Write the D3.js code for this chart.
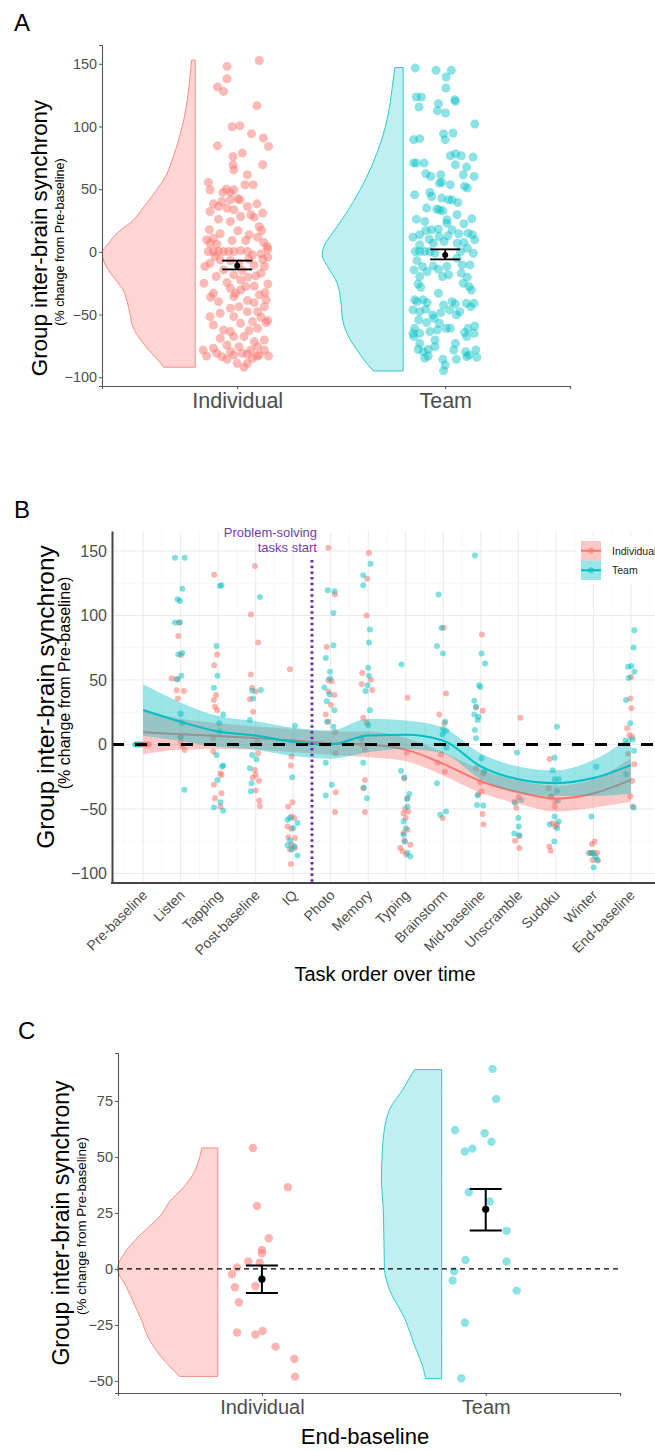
<!DOCTYPE html>
<html>
<head>
<meta charset="utf-8">
<script src="https://cdnjs.cloudflare.com/ajax/libs/d3/7.8.5/d3.min.js"></script>
<style>
  body { margin: 0; background: #fff; }
  svg { display: block; font-family: "Liberation Sans", Arial, Helvetica, sans-serif; }
</style>
</head>
<body>
<div id="chart"></div>
<script>
// ---------- data ----------
const groups = ['Individual', 'Team'];

// Panel A: [jitter (-1..1), % change]
const aIndivPoints = [[.65,152.6],[-.3,148],[-.3,138],[-.58,131.5],[-.4,128],[.58,116.6],[-.15,99.8],[.08,100.6],[.42,94.2],[.77,90.8],[-.58,84.7],[.92,84.1],[.15,78.8],[-.12,76.1],[-.12,69.5],[.75,69.5],[-.1,65.5],[.3,61.5],[-.85,55.4],[.23,53.5],[.47,53.5],[-.8,49.5],[-.32,50],[-.1,49.5],[-.42,47.4],[-.2,47.4],[.02,42.3],[.08,41.5],[-.45,40.2],[-.7,38.3],[.58,38.3],[-.55,36.2],[-.3,34.9],[.3,36.2],[-.8,32.2],[-.1,33.5],[.4,29.6],[.5,27.7],[-.55,26.1],[.1,28.2],[-.2,24.2],[.65,20.2],[.72,17],[-.82,17.6],[.02,16.8],[-.7,10.9],[-.5,14.4],[.35,13.6],[.6,11.7],[-.15,9.1],[.25,9.1],[.78,7.5],[-.8,6.9],[-.6,6.1],[.88,4.3],[-.85,0.3],[-.7,0.3],[-.55,0.3],[-.4,0.3],[-.25,0.3],[-.1,0.3],[.1,1.1],[.3,0.3],[.9,2.1],[.7,-1.6],[.45,-2.4],[.9,-4.3],[-.8,-9.1],[-.5,-6.4],[-.2,-6.9],[.35,-5.9],[.75,-5.9],[.8,-11.7],[.15,-14.9],[-.1,-18.4],[-.62,-19.7],[.55,-19.2],[-.3,-24.5],[.1,-22.4],[.32,-20.2],[.9,-25.6],[.5,-27.2],[-.2,-29],[-.7,-33],[.1,-30.4],[.65,-34.3],[.82,-32.5],[-.1,-35.7],[.3,-38.9],[-.78,-36.2],[-.55,-39.7],[.5,-40.5],[.85,-38.3],[-.2,-45],[.05,-43.7],[.3,-47.7],[.6,-47.7],[.8,-43.7],[-.8,-51.7],[-.5,-49],[-.1,-51.7],[.7,-52.2],[.9,-54.8],[-.7,-58.3],[.1,-57],[.45,-55.6],[.85,-56.4],[-.4,-62.3],[-.2,-63.6],[.35,-62.8],[.6,-61],[-.1,-67.6],[-.5,-69],[.2,-67.6],[.8,-70.3],[.5,-71.6],[-.3,-74.3],[-.7,-76.9],[.05,-75.6],[.4,-78.3],[.8,-78.3],[.6,-75.6],[-.2,-79.6],[.15,-80.9],[-.6,-80.9],[-.9,-83.1],[-.45,-83.6],[-.1,-82.3],[.3,-81.5],[.65,-82.3],[.92,-83.1],[-.3,-85.7],[.45,-84.9],[.58,-83.1],[0,-88.9],[.3,-88.9],[.2,-92.1],[-1,-78.3],[-.98,-25],[-.05,-33],[.25,-27.7],[.7,-17],[-.4,-14.4],[-.95,-11.7],[.5,-10.4],[-.65,-3.7],[.05,-9.1],[.75,30.9],[-.2,41.5],[-.9,9.6]];
const aTeamPoints = [[-.88,146.7],[-.27,144.8],[.18,144.8],[.03,139.5],[.02,130.7],[-.85,123.5],[-.7,123.5],[-.77,115.5],[.28,121.4],[.3,120],[-.2,118.2],[-.23,112.6],[.01,110.8],[.87,102],[-.93,89.5],[-.75,90.3],[-.05,94.2],[.23,94.8],[0,89.5],[-.93,70.8],[-.85,70.8],[-.62,70.8],[.15,76.7],[.3,78.3],[.47,76.7],[.82,75.6],[.3,69.5],[.63,67.6],[-.57,62.3],[-.42,60.2],[-.13,61.5],[.53,61.5],[.85,60.2],[-.17,54.8],[-.1,55.4],[.15,53.5],[.57,52.2],[.65,50.9],[-.9,45.5],[-.45,47.4],[-.4,44.2],[-.1,42.9],[.1,41.5],[.2,41.5],[.37,39.4],[-.55,34.9],[-.25,34.1],[-.17,33.5],[-.07,32.7],[.35,29.6],[-.85,26.1],[-.6,24.2],[.05,25.6],[.78,26.4],[-.4,17.6],[-.2,18.1],[-.57,17],[.05,22.9],[.2,17.6],[.55,22.4],[-.95,11.7],[-.75,13.6],[-.47,10.1],[-.18,12.2],[.08,12.8],[.4,14.4],[.67,14.9],[.8,13.6],[.87,9.6],[-.75,5.6],[-.35,6.9],[-.03,8.3],[.35,6.9],[.55,7.5],[-.88,0.3],[-.75,0.3],[-.6,0.3],[-.45,0.3],[-.3,-1.1],[.45,0.3],[.65,2.9],[.83,-1.1],[-.83,-6.9],[-.67,-11.7],[-.53,-15.7],[-.35,-11.2],[-.2,-13.8],[.05,-11.7],[.35,-5.1],[.5,-10.4],[.73,-10.4],[-.92,-14.4],[-.75,-19.7],[-.08,-19.7],[.1,-18.4],[.47,-17],[.65,-20.2],[-.8,-25.6],[-.72,-28.2],[.53,-25],[.7,-27.7],[-.2,-33],[.77,-30.4],[-.9,-38.3],[-.83,-39.7],[-.65,-38.3],[-.53,-40.5],[.2,-39.7],[.3,-41.5],[.62,-41],[.85,-41],[-.05,-42.3],[-.95,-46.3],[-.75,-47.7],[-.57,-45.8],[-.37,-50.3],[-.13,-48.5],[.13,-46.3],[.43,-47.7],[.75,-43.7],[-.78,-54.3],[-.55,-56.4],[-.33,-53],[-.17,-57],[.33,-50.3],[-.9,-61],[-.75,-65],[-.45,-63.6],[-.23,-62.3],[.03,-61],[.15,-61],[.57,-64.4],[.67,-61],[.87,-59.1],[-.92,-67.6],[-.3,-70.3],[.63,-67.6],[-.8,-77.7],[-.65,-79.6],[-.5,-77.7],[-.3,-75.6],[.25,-78.3],[.3,-73],[.6,-79.6],[.7,-82.3],[.9,-78.3],[-.6,-84.9],[-.5,-83.1],[-.07,-85.7],[.33,-85.7],[.63,-83.6],[.93,-84.1],[0,-90.3],[-.05,-94.8],[-.75,-73],[.85,-65],[-.95,-65]];
const aMeans = [-11, -2.5];
const aLow = [-14, -6];
const aHigh = [-7, 2];
// violin outlines: [value, relative density]
const aIndivViolin = [[153,.04],[100,.14],[75,.24],[60,.32],[50,.41],[35,.56],[25,.67],[15,.84],[5,.95],[0,1],[-10,.97],[-20,.88],[-30,.78],[-40,.73],[-50,.70],[-60,.67],[-70,.59],[-80,.48],[-88,.38],[-92,.34]];
const aTeamViolin = [[147,.09],[130,.12],[110,.16],[90,.23],[70,.33],[50,.46],[30,.62],[15,.76],[5,.85],[-3,.87],[-12,.81],[-25,.71],[-40,.67],[-55,.65],[-70,.57],[-80,.48],[-90,.38],[-95,.32]];
const aTicks = [-100, -50, 0, 50, 100, 150];

// Panel B
const bTasks = ['Pre-baseline','Listen','Tapping','Post-baseline','IQ','Photo','Memory','Typing','Brainstorm','Mid-baseline','Unscramble','Sudoku','Winter','End-baseline'];
const bIndivPoints = [
  [[-.5,0],[-.2,0],[0,0],[.2,0],[.4,0],[.6,0]],
  [[-.17,94.5],[-.23,84.1],[.03,69.3],[-.3,50.6],[.33,41.4],[-.27,35.7],[0,2.2],[.4,-4.3],[.17,-1],[0,6],[-.9,51.4],[-.4,42]],
  [[-.4,131.6],[-.1,69.8],[-.4,61.5],[-.23,38.3],[-.43,34.4],[-.33,29.2],[-.1,26.6],[-.5,4.8],[-.5,-5.5],[.23,-22.3],[.33,-23.6],[-.43,-31.3],[.33,-37.8],[-.33,-41.6],[.23,-48]],
  [[-.08,138.3],[-.48,100.7],[.25,79],[-.48,54.3],[-.35,44],[0,41],[-.58,35],[-.25,25.4],[.18,2.2],[.25,-6.8],[-.08,-19.7],[0,-23.6],[-.28,-25.7],[.32,-28.2],[0,-35.7],[.35,-43.5],[.42,-47.7]],
  [[-.33,58.4],[-.17,-9.4],[-.23,-16.4],[-.07,-44.7],[-.5,-48],[-.17,-55.8],[.1,-57],[-.57,-63.5],[-.17,-65.3],[-.5,-72],[.17,-72.5],[-.17,-77.7],[-.33,-81.5],[.17,-80.2],[-.23,-92.7]],
  [[-.23,152.5],[.43,116.4],[-.4,75.6],[-.23,49.7],[.1,49],[-.23,41],[.37,38.3],[.03,30.6],[-.5,23.3],[-.23,17.7],[.43,9.4],[.5,-6.8],[.5,-37],[.43,-52.4]],
  [[.07,148.4],[-.1,128.5],[-.17,99.9],[-.6,55.4],[.27,50.2],[-.67,46.8],[.4,42.3],[-.5,20.7],[-.17,16.8],[-.6,0],[-.33,-3.9],[-.33,-27.5],[-.5,-33.9],[-.33,-52.4]],
  [[.18,36.2],[.12,-6.3],[-.15,-26.3],[.18,-41.6],[-.08,-49.9],[-.22,-53.3],[.25,-52],[0,-57],[-.22,-68.6],[.18,-66.1],[-.15,-74.6],[.45,-77.7],[-.55,-80.2],[-.32,-82.8],[.05,-85.3]],
  [[.03,90.4],[.27,39.6],[-.4,23.3],[.1,16.4],[-.23,-7.6],[-.57,-14.2],[.17,-21.2],[-.07,-57]],
  [[.12,85.2],[-.48,28.7],[.18,26.1],[-.48,-18.4],[.28,-22.3],[-.05,-29.3],[.08,-36.5],[-.25,-38.6],[.18,-53.9],[.28,-62]],
  [[.2,20.7],[.03,-40.9],[-.4,-44.6],[.1,-70.9],[.1,-80.2],[-.33,-74.6],[-.2,-49]],
  [[-.62,-11.2],[-.72,-33.9],[-.55,-41.1],[-.05,-44.2],[-.12,-48.1],[-.32,-61],[-.05,-63.5],[-.65,-79.1],[-.52,-82.4],[.12,-62]],
  [[.13,-75.2],[-.13,-77.2],[-.47,-84.2],[-.2,-84.2],[.07,-84.2],[.37,-84.2],[-.07,-89.5],[.47,-90]],
  [[.02,52.4],[-.05,35.7],[.05,28],[-.38,12.5],[-.15,7.3],[.12,6],[-.28,-7.3],[.35,-15.3],[.12,-28.2],[-.05,-40.2],[.18,-48]]
];
const bTeamPoints = [
  [[-.8,0],[-.7,0],[-.5,0],[-.3,0]],
  [[-.57,144.8],[.4,144.8],[.17,120.8],[-.3,112.5],[-.07,111.3],[-.57,94.5],[-.07,94.5],[-.23,70],[.17,71],[.07,53.2],[-.4,50.6],[0,23.8],[.17,16.4],[0,6],[.37,-35.2]],
  [[.33,123.4],[.17,122.9],[-.17,76.4],[-.07,53.2],[-.43,43.9],[.5,23.3],[.1,16.4],[.17,10],[-.17,-8.1],[.5,-16.4],[.4,-17],[-.07,-27.5],[.23,-44.7],[-.43,-48.8],[.5,-51.4]],
  [[.42,114.3],[.52,42.3],[-.35,41.7],[-.25,35.7],[-.58,19],[-.35,-8.1],[.08,-11.5],[-.58,-18.5],[-.42,-30],[-.48,-36.2]],
  [[.17,14.5],[-.1,-25.4],[-.57,-58.3],[-.33,-57],[.43,-60.9],[0,-64.7],[-.33,-74.5],[-.57,-78.1],[.1,-78.9],[-.17,-81.5],[.43,-86.1]],
  [[-.3,119.5],[.37,118.7],[.27,101.9],[.27,76.9],[-.5,67.1],[-.07,56.3],[-.07,51.2],[-.63,44.2],[-.13,38.8],[-.4,33.6],[.37,26.6],[-.37,17.7],[.27,13.8],[-.5,-14.2],[.1,-31.3],[-.5,-39.6]],
  [[.23,140.1],[-.5,131.1],[-.5,123.4],[.17,89.1],[.07,79],[0,59.5],[.07,53.2],[-.07,46],[-.27,41.4],[.17,26.6],[0,15],[-.67,4.8],[-.5,-14.2],[-.43,-33.4],[-.13,-41.6]],
  [[-.42,62],[-.48,-20.3],[-.15,-25.7],[.35,-38.4],[.12,-42.2],[.18,-48.1],[-.22,-59.7],[0,-64.9],[-.22,-70],[-.08,-75.2],[.18,-84.2],[.45,-86.8]],
  [[-.47,116.2],[-.17,90.4],[-.63,76.4],[-.03,70.5],[.2,17.7],[0,12],[.3,10.5],[-.07,7.9],[.33,-2.4],[-.63,-30],[-.3,-54.5],[.27,-52]],
  [[-.58,146.6],[.08,70.5],[.42,62.8],[-.18,46],[-.05,44.6],[-.65,33.9],[-.48,29.2],[-.65,23.3],[-.22,21.5],[-.32,18.9],[-.58,11.2],[-.48,4.8],[.08,-10.6],[.35,-21],[-.32,-39.6],[.25,-47.4],[-.38,-46.9]],
  [[-.13,-6.3],[.3,-43],[-.33,-44.9],[0,-57],[.03,-63.5],[-.4,-69.1],[.1,-70.4]],
  [[.12,13.8],[-.12,-10.3],[-.32,-20],[-.12,-27.1],[.28,-27],[.12,-36.2],[-.45,-40.1],[.22,-43.5],[-.62,-62.1],[-.12,-55.8],[.28,-59.7],[.12,-64.9],[-.15,-75.2]],
  [[.3,-17.2],[-.2,-55.8],[-.07,-84.2],[.2,-86.8],[.03,-95.3],[.37,-89.6],[-.3,-84.2]],
  [[.35,88.6],[.28,75.2],[-.28,60.2],[.05,60.9],[.35,56.3],[-.22,51.6],[-.48,34.4],[-.05,16.4],[-.55,3.1],[.18,3.9],[.32,-4.9],[-.48,-23.1],[.28,-48.9]]
];
// smoothed trend and half-width of its confidence band, per task
const bIndivFit = [9.4, 8, 6.5, 5, 3, 1, 0, -4, -15, -28.5, -37, -42, -38, -27.5];
const bIndivBand = [17, 12, 10, 9, 9, 9, 10, 9, 9, 9, 9, 10, 11, 17];
const bTeamFit = [26.7, 17.6, 10, 7, 2, 0, 7, 7.5, 3, -17, -27, -30, -26, -16];
const bTeamBand = [20, 15, 12, 11, 11, 11, 13, 11, 10, 10, 10, 10, 14, 22];
const bTicks = [-100, -50, 0, 50, 100, 150];

// Panel C (End-baseline)
const cIndivPoints = [[-.25,54],[.72,36.5],[-.14,28.1],[.19,13.7],[0,8.5],[0,7],[-.38,3.3],[-.06,2.8],[-.69,0.7],[-.83,-2.4],[-.75,-8.2],[-.18,-7.6],[-.64,-14.9],[-.69,-28.4],[-.18,-29.3],[.02,-27.7],[.38,-34.7],[.9,-40.2],[.92,-48.1]];
const cTeamPoints = [[.19,89.3],[.29,75.9],[-.85,62],[-.03,60.6],[.16,56.8],[-.58,52.4],[-.37,53.7],[-.47,34.2],[.11,30.1],[.58,17],[-.56,4],[.58,3.3],[-.88,-1],[-.92,-5.2],[.86,-9.7],[-.58,-24],[-.68,-48.8]];
const cMeans = [-4.6, 26.6];
const cLow = [-10.8, 17.1];
const cHigh = [1.5, 35.7];
const cIndivViolin = [[54,.16],[40,.28],[36.6,.34],[29.5,.49],[25,.55],[14,.80],[7,.93],[0,1],[-8,.91],[-15,.84],[-23,.76],[-30,.70],[-39,.57],[-48,.38]];
const cTeamViolin = [[89,.27],[80,.39],[70,.53],[54,.59],[40,.60],[25,.58],[0,.57],[-8,.53],[-23,.36],[-33,.28],[-45,.18],[-49,.16]];
const cTicks = [-50, -25, 0, 25, 50, 75];

// ---------- drawing ----------
const RED = '#F8766D', CYAN = '#00BFC4', GREYTXT = '#4d4d4d';
const width = 655, height = 1451;

const svg = d3.select('#chart').append('svg')
  .attr('width', width)
  .attr('height', height);

function panelLetter(txt, x, y) {
  svg.append('text').attr('x', x).attr('y', y)
    .attr('font-size', 24).attr('fill', '#000').text(txt);
}

function yTitles(bx, cy, size, sx, scy, ssize) {
  svg.append('text')
    .attr('transform', `translate(${bx},${cy}) rotate(-90)`)
    .attr('text-anchor', 'middle').attr('font-size', size).attr('fill', '#000')
    .text('Group inter-brain synchrony');
  svg.append('text')
    .attr('transform', `translate(${sx},${scy}) rotate(-90)`)
    .attr('text-anchor', 'middle').attr('font-size', ssize).attr('fill', '#000')
    .text('(% change from Pre-baseline)');
}

// half violin + jittered points, shared by panels A and C
function raincloud(g, x, y, opts) {
  const dens = d3.scaleLinear().domain([0, 1]).range([0, opts.maxW]);
  const violinArea = d3.area()
    .y(d => y(d[0]))
    .x0(d => opts.right - dens(d[1]))
    .x1(opts.right)
    .curve(d3.curveMonotoneY);

  g.append('path')
    .datum(opts.violin)
    .attr('d', violinArea)
    .attr('fill', opts.color).attr('fill-opacity', opts.fillOp)
    .attr('stroke', opts.color).attr('stroke-opacity', .8).attr('stroke-width', 1);

  g.append('g').selectAll('circle')
    .data(opts.points)
    .enter().append('circle')
    .attr('cx', d => x(opts.idx) + d[0] * opts.jitter)
    .attr('cy', d => y(d[1]))
    .attr('r', opts.r)
    .attr('fill', opts.color)
    .attr('fill-opacity', opts.ptOp);
}

function errorBar(g, x, y, i, mean, lo, hi, cap, sw, r) {
  const cx = x(i);
  g.append('line').attr('x1', cx).attr('x2', cx).attr('y1', y(lo)).attr('y2', y(hi))
    .attr('stroke', '#000').attr('stroke-width', sw);
  [lo, hi].forEach(v => {
    g.append('line').attr('x1', cx - cap).attr('x2', cx + cap).attr('y1', y(v)).attr('y2', y(v))
      .attr('stroke', '#000').attr('stroke-width', sw);
  });
  g.append('circle').attr('cx', cx).attr('cy', y(mean)).attr('r', r).attr('fill', '#000');
}

// ===== Panel A =====
{
  const x = d3.scaleLinear().domain([-0.65, 1.6]).range([102, 570]);
  const y = d3.scaleLinear().domain([-107, 165]).range([386, 45]);
  const g = svg.append('g');

  raincloud(g, x, y, { idx: 0, violin: aIndivViolin, points: aIndivPoints, color: RED,
    right: x(0) - 42, maxW: 93, fillOp: .3, ptOp: .5, r: 4.5, jitter: 34 });
  raincloud(g, x, y, { idx: 1, violin: aTeamViolin, points: aTeamPoints, color: CYAN,
    right: x(1) - 42, maxW: 93, fillOp: .25, ptOp: .45, r: 4.5, jitter: 34 });
  groups.forEach((grp, i) => errorBar(g, x, y, i, aMeans[i], aLow[i], aHigh[i], 15, 1.8, 3));

  const yAxis = d3.axisLeft(y).tickValues(aTicks).tickSize(3).tickPadding(2);
  const ya = g.append('g').attr('transform', 'translate(102,0)').call(yAxis);
  ya.select('.domain').attr('stroke', '#555').attr('stroke-width', 1.1);
  ya.selectAll('.tick line').attr('stroke', '#555');
  ya.selectAll('text').attr('font-size', 14.4).attr('fill', GREYTXT).attr('font-family', null);

  const xAxis = d3.axisBottom(x).tickValues([0, 1]).tickFormat(i => groups[i]).tickSize(3).tickPadding(4);
  const xa = g.append('g').attr('transform', 'translate(0,386)').call(xAxis);
  xa.select('.domain').attr('stroke', '#555').attr('stroke-width', 1.1);
  xa.selectAll('.tick line').attr('stroke', '#555');
  xa.selectAll('text').attr('font-size', 21.5).attr('fill', GREYTXT).attr('font-family', null);

  panelLetter('A', 14, 31);
  yTitles(47, 238, 22.3, 64, 242, 12.6);
}

// ===== Panel B =====
{
  const x = d3.scaleLinear().domain([-0.83, 13.67]).range([112, 656]);
  const y = d3.scaleLinear().domain([-107.4, 165.5]).range([883, 531]);
  const g = svg.append('g');
  const top = 531, bottom = 883, left = 112, right = 655;

  // grid
  const grid = g.append('g');
  d3.range(-75, 150, 50).forEach(v => grid.append('line')
    .attr('x1', left).attr('x2', right).attr('y1', y(v)).attr('y2', y(v))
    .attr('stroke', '#f1f3f3').attr('stroke-width', .7));
  bTicks.forEach(v => grid.append('line')
    .attr('x1', left).attr('x2', right).attr('y1', y(v)).attr('y2', y(v))
    .attr('stroke', '#e6eaea').attr('stroke-width', 1));
  d3.range(-0.5, 14, 1).forEach(v => grid.append('line')
    .attr('x1', x(v)).attr('x2', x(v)).attr('y1', top).attr('y2', bottom)
    .attr('stroke', '#f1f3f3').attr('stroke-width', .7));
  bTasks.forEach((t, i) => grid.append('line')
    .attr('x1', x(i)).attr('x2', x(i)).attr('y1', top).attr('y2', bottom)
    .attr('stroke', '#e6eaea').attr('stroke-width', 1));

  // points
  const pts = [];
  bIndivPoints.forEach((arr, i) => arr.forEach(d => pts.push({ i, j: d[0], v: d[1], c: RED, o: .55 })));
  bTeamPoints.forEach((arr, i) => arr.forEach(d => pts.push({ i, j: d[0], v: d[1], c: CYAN, o: .5 })));
  g.append('g').selectAll('circle')
    .data(pts)
    .enter().append('circle')
    .attr('cx', d => x(d.i) + d.j * 10)
    .attr('cy', d => y(d.v))
    .attr('r', 3)
    .attr('fill', d => d.c)
    .attr('fill-opacity', d => d.o);

  // smooth trends with confidence bands
  const idx = d3.range(bTasks.length);
  const series = [
    { fit: bIndivFit, band: bIndivBand, color: RED },
    { fit: bTeamFit, band: bTeamBand, color: CYAN }
  ];
  series.forEach(s => {
    const band = d3.area()
      .x(i => x(i))
      .y0(i => y(s.fit[i] - s.band[i]))
      .y1(i => y(s.fit[i] + s.band[i]))
      .curve(d3.curveMonotoneX);
    g.append('path').datum(idx).attr('d', band)
      .attr('fill', s.color).attr('fill-opacity', .4);
    const line = d3.line().x(i => x(i)).y(i => y(s.fit[i])).curve(d3.curveMonotoneX);
    g.append('path').datum(idx).attr('d', line)
      .attr('fill', 'none').attr('stroke', s.color).attr('stroke-width', 2);
  });

  // reference lines
  g.append('line').attr('x1', left).attr('x2', right).attr('y1', y(0)).attr('y2', y(0))
    .attr('stroke', '#000').attr('stroke-width', 3).attr('stroke-dasharray', '12,11');
  g.append('line').attr('x1', x(4.5)).attr('x2', x(4.5)).attr('y1', 560).attr('y2', bottom)
    .attr('stroke', '#6b2fa3').attr('stroke-width', 3).attr('stroke-dasharray', '2.5,3.2');
  g.append('text').attr('x', 317).attr('y', 537).attr('text-anchor', 'end')
    .attr('font-size', 13).attr('fill', '#7440a8').text('Problem-solving');
  g.append('text').attr('x', 317).attr('y', 552).attr('text-anchor', 'end')
    .attr('font-size', 13).attr('fill', '#7440a8').text('tasks start');

  // axes
  const yAxis = d3.axisLeft(y).tickValues(bTicks).tickSize(0).tickPadding(5);
  const ya = g.append('g').attr('transform', `translate(${left},0)`).call(yAxis);
  ya.select('.domain').attr('stroke', '#444').attr('stroke-width', 2);
  ya.selectAll('text').attr('font-size', 16).attr('fill', GREYTXT).attr('font-family', null);

  g.append('line').attr('x1', left - 1).attr('x2', right).attr('y1', bottom).attr('y2', bottom)
    .attr('stroke', '#444').attr('stroke-width', 2);
  g.append('g').selectAll('text')
    .data(bTasks)
    .enter().append('text')
    .attr('transform', (d, i) => `translate(${x(i) + 5},${bottom + 13}) rotate(-45)`)
    .attr('text-anchor', 'end')
    .attr('font-size', 14).attr('fill', GREYTXT)
    .text(d => d);

  g.append('text').attr('x', 385).attr('y', 981).attr('text-anchor', 'middle')
    .attr('font-size', 20).attr('fill', '#000').text('Task order over time');

  // legend
  const lg = g.append('g');
  lg.append('rect').attr('x', 576).attr('y', 536).attr('width', 80).attr('height', 48).attr('fill', '#fff');
  groups.forEach((grp, k) => {
    const c = k === 0 ? RED : CYAN;
    const ky = 541 + k * 19.5;
    lg.append('rect').attr('x', 581).attr('y', ky).attr('width', 20).attr('height', 19.5)
      .attr('fill', c).attr('fill-opacity', .4);
    lg.append('line').attr('x1', 581).attr('x2', 601).attr('y1', ky + 9.75).attr('y2', ky + 9.75)
      .attr('stroke', c).attr('stroke-width', 2);
    lg.append('circle').attr('cx', 591).attr('cy', ky + 9.75).attr('r', 3).attr('fill', c).attr('fill-opacity', .6);
    lg.append('text').attr('x', 612).attr('y', ky + 13.5).attr('font-size', 10.5).attr('fill', '#222').text(grp);
  });

  panelLetter('B', 14, 518);
  yTitles(54, 697, 24.5, 70, 683, 16);
}

// ===== Panel C =====
{
  const x = d3.scaleLinear().domain([-0.643, 1.6]).range([118, 620]);
  const y = d3.scaleLinear().domain([-55.4, 96.4]).range([1393, 1053]);
  const g = svg.append('g');

  raincloud(g, x, y, { idx: 0, violin: cIndivViolin, points: cIndivPoints, color: RED,
    right: x(0) - 44, maxW: 100.5, fillOp: .3, ptOp: .55, r: 4.2, jitter: 36 });
  raincloud(g, x, y, { idx: 1, violin: cTeamViolin, points: cTeamPoints, color: CYAN,
    right: x(1) - 44, maxW: 100.5, fillOp: .25, ptOp: .45, r: 4.2, jitter: 36 });

  g.append('line').attr('x1', 118).attr('x2', 620).attr('y1', y(0)).attr('y2', y(0))
    .attr('stroke', '#000').attr('stroke-width', 1.4).attr('stroke-dasharray', '5,4');

  groups.forEach((grp, i) => errorBar(g, x, y, i, cMeans[i], cLow[i], cHigh[i], 16, 2, 3.6));

  const yAxis = d3.axisLeft(y).tickValues(cTicks).tickSize(3).tickPadding(2);
  const ya = g.append('g').attr('transform', 'translate(118,0)').call(yAxis);
  ya.select('.domain').attr('stroke', '#555').attr('stroke-width', 1.1);
  ya.selectAll('.tick line').attr('stroke', '#555');
  ya.selectAll('text').attr('font-size', 14.5).attr('fill', GREYTXT).attr('font-family', null);

  const xAxis = d3.axisBottom(x).tickValues([0, 1]).tickFormat(i => groups[i]).tickSize(3).tickPadding(4);
  const xa = g.append('g').attr('transform', 'translate(0,1393)').call(xAxis);
  xa.select('.domain').attr('stroke', '#555').attr('stroke-width', 1.1);
  xa.selectAll('.tick line').attr('stroke', '#555');
  xa.selectAll('text').attr('font-size', 20).attr('fill', GREYTXT).attr('font-family', null);

  g.append('text').attr('x', 365).attr('y', 1444).attr('text-anchor', 'middle')
    .attr('font-size', 22).attr('fill', '#000').text('End-baseline');

  panelLetter('C', 18, 1039);
  yTitles(69, 1223, 23, 86, 1226, 13.4);
}
</script>
</body>
</html>
